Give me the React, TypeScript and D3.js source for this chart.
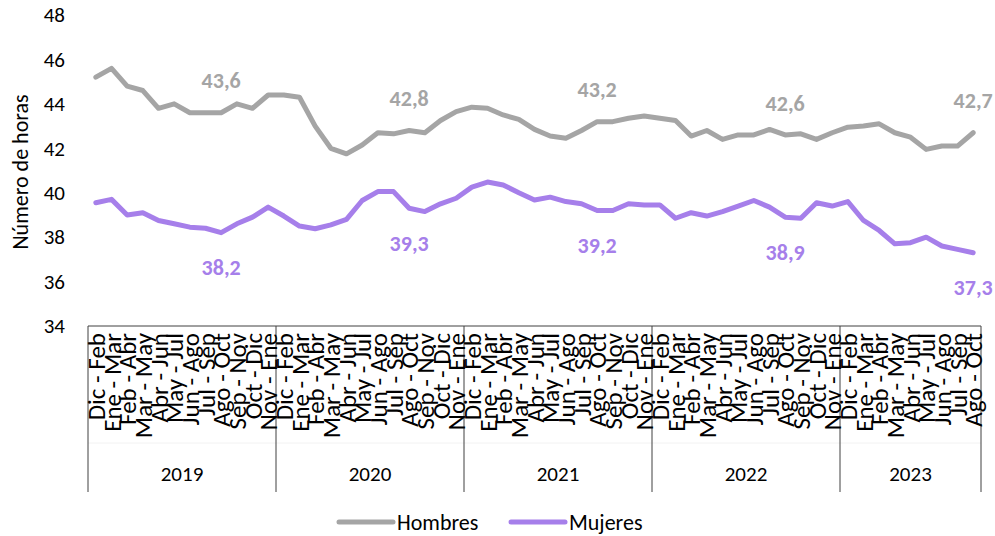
import React from "react";
import * as d3 from "d3";

const years = ["2019", "2020", "2021", "2022", "2023"];
const months = ["Dic - Feb", "Ene - Mar", "Feb - Abr", "Mar - May", "Abr - Jun", "May - Jul", "Jun - Ago", "Jul - Sep", "Ago - Oct", "Sep - Nov", "Oct - Dic", "Nov - Ene"];
const periodsPerYear = [12, 12, 12, 12, 9];

const hombres = [
  45.2, 45.6, 44.8, 44.6, 43.8, 44.0, 43.6, 43.6, 43.6, 44.0, 43.8, 44.4,
  44.4, 44.3, 43.0, 42.0, 41.75, 42.15, 42.7, 42.65, 42.8, 42.7, 43.25, 43.65,
  43.85, 43.8, 43.5, 43.3, 42.85, 42.55, 42.45, 42.8, 43.2, 43.2, 43.35, 43.45,
  43.35, 43.25, 42.55, 42.8, 42.4, 42.6, 42.6, 42.85, 42.6, 42.65, 42.4, 42.7,
  42.95, 43.0, 43.1, 42.7, 42.5, 41.95, 42.1, 42.1, 42.7,
];
const mujeres = [
  39.55, 39.7, 39.0, 39.1, 38.75, 38.6, 38.45, 38.4, 38.2, 38.6, 38.9, 39.35,
  38.95, 38.5, 38.38, 38.55, 38.8, 39.65, 40.05, 40.05, 39.3, 39.15, 39.5, 39.75,
  40.25, 40.48, 40.35, 40.0, 39.67, 39.8, 39.6, 39.5, 39.2, 39.2, 39.5, 39.45,
  39.45, 38.85, 39.1, 38.95, 39.15, 39.4, 39.65, 39.35, 38.9, 38.85, 39.55, 39.4,
  39.6, 38.75, 38.3, 37.7, 37.75, 38.0, 37.6, 37.45, 37.3,
];
const labelIdx = [8, 20, 32, 44, 56];
const yTicks = [34, 36, 38, 40, 42, 44, 46, 48];
const seriesNames = ["Hombres", "Mujeres"];

const GRAY = "#A5A5A5";
const PURPLE = "#A67FEA";
const FONT = "Carlito, Calibri, Lato, 'Open Sans', sans-serif";

type Cat = { id: string; label: string; year: string };
const cats: Cat[] = [];
years.forEach((yr, yi) => {
  for (let m = 0; m < periodsPerYear[yi]; m++) {
    cats.push({ id: `${yr}-${m}`, label: months[m], year: yr });
  }
});

export default function App() {
  const W = 995, H = 536;
  const left = 88, right = 981, top = 15, bottom = 326;
  const x = d3.scaleBand<string>().domain(cats.map((c) => c.id)).range([left, right]).padding(0);
  const y = d3.scaleLinear().domain([34, 48]).range([bottom, top]);
  const cx = (i: number) => (x(cats[i].id) as number) + x.bandwidth() / 2;
  const line = d3.line<number>().x((_, i) => cx(i)).y((v) => y(v));

  const bounds: number[] = [left];
  let acc = 0;
  periodsPerYear.forEach((n) => {
    acc += n;
    const c = cats[acc - 1];
    bounds.push((x(c.id) as number) + x.bandwidth());
  });

  const fmt = (v: number) => v.toFixed(1).replace(".", ",");

  return (
    <svg width={W} height={H} style={{ display: "block", position: "absolute", left: 0, top: 0 }} fontFamily={FONT}>
      <rect width={W} height={H} fill="#fff" />
      {yTicks.map((t) => (
        <text key={t} x={65} y={y(t)} dy="0.35em" textAnchor="end" fontSize={21} fill="#000">
          {t}
        </text>
      ))}
      <text transform={`translate(28,${172}) rotate(-90)`} textAnchor="middle" fontSize={22} fill="#000">
        Número de horas
      </text>
      <line x1={left} x2={right} y1={bottom} y2={bottom} stroke="#404040" strokeWidth={1} />
      <line x1={left} x2={right} y1={443} y2={443} stroke="#f2f2f2" strokeWidth={1} />
      {bounds.map((b, i) => (
        <line key={i} x1={b} x2={b} y1={bottom} y2={492} stroke="#404040" strokeWidth={1} />
      ))}
      {cats.map((c, i) => (
        <text key={c.id} transform={`translate(${cx(i)},${333}) rotate(-90)`} dy="0.36em" textAnchor="end" fontSize={25} fill="#000">
          {c.label}
        </text>
      ))}
      {years.map((yr, i) => (
        <text key={yr} x={(bounds[i] + bounds[i + 1]) / 2} y={474} dy="0.35em" textAnchor="middle" fontSize={21} fill="#000">
          {yr}
        </text>
      ))}
      <path d={line(hombres) || ""} fill="none" stroke={GRAY} strokeWidth={5} strokeLinejoin="round" strokeLinecap="round" />
      <path d={line(mujeres) || ""} fill="none" stroke={PURPLE} strokeWidth={5} strokeLinejoin="round" strokeLinecap="round" />
      {labelIdx.map((i) => (
        <text key={`h${i}`} x={cx(i)} y={y(hombres[i]) - 32} dy="0.35em" textAnchor="middle" fontSize={22} fontWeight="bold" fill={GRAY}>
          {fmt(hombres[i])}
        </text>
      ))}
      {labelIdx.map((i) => (
        <text key={`m${i}`} x={cx(i)} y={y(mujeres[i]) + 35} dy="0.35em" textAnchor="middle" fontSize={22} fontWeight="bold" fill={PURPLE}>
          {fmt(mujeres[i])}
        </text>
      ))}
      {seriesNames.map((n, i) => {
        const lx = i === 0 ? 339 : 511;
        return (
          <g key={n}>
            <line x1={lx} x2={lx + 54} y1={522} y2={522} stroke={i === 0 ? GRAY : PURPLE} strokeWidth={5} strokeLinecap="round" />
            <text x={lx + 58} y={522} dy="0.35em" fontSize={22} fill="#000">
              {n}
            </text>
          </g>
        );
      })}
    </svg>
  );
}
